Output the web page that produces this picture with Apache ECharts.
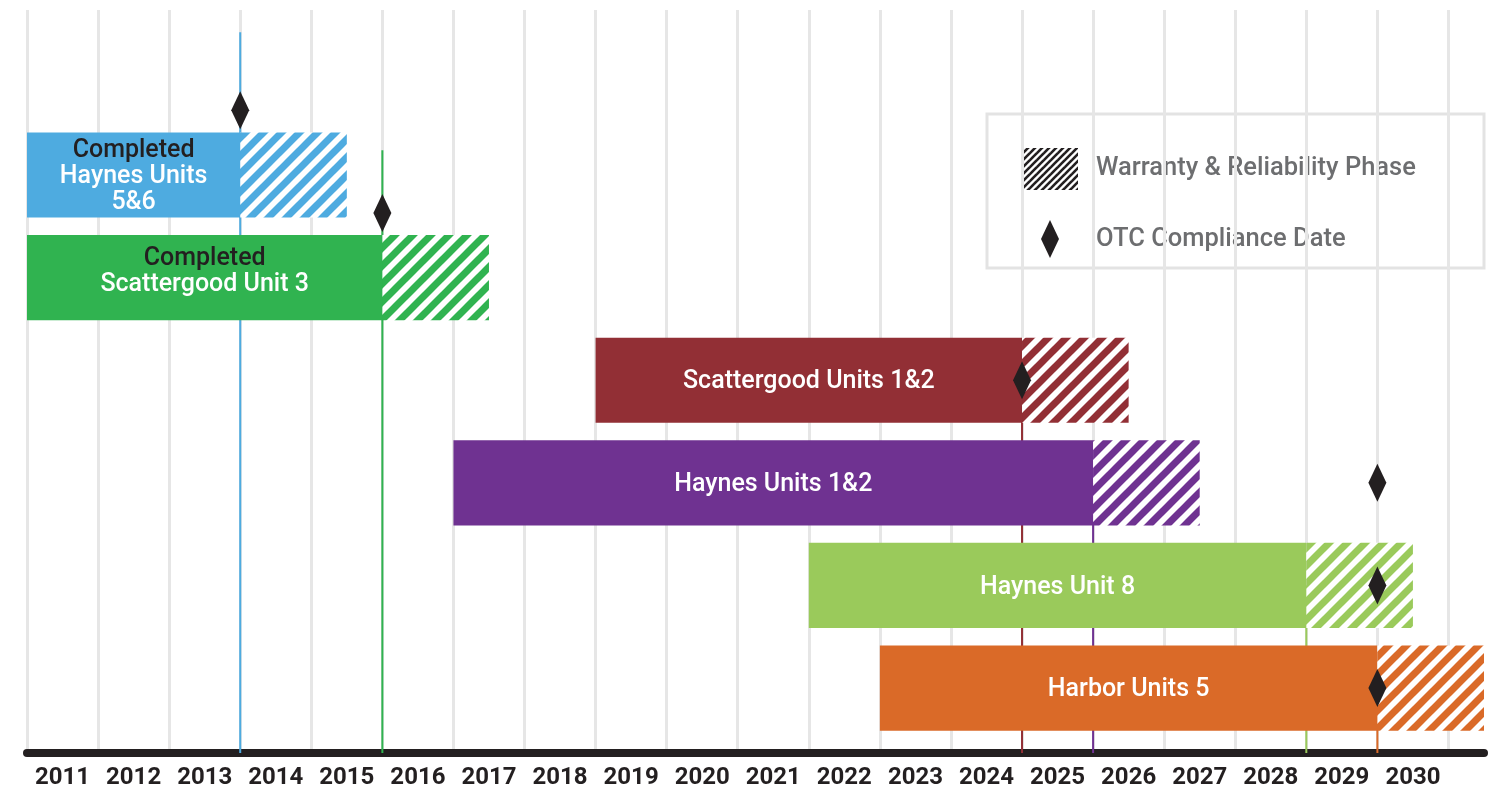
<!DOCTYPE html>
<html>
<head>
<meta charset="utf-8">
<script src="https://cdn.jsdelivr.net/npm/echarts@6/dist/echarts.min.js"></script>
<style>
  html, body { margin: 0; padding: 0; background: #fff; }
  #chart { width: 1495px; height: 788px; }
</style>
</head>
<body>
<div id="chart"></div>
<script>
// rows, top to bottom
const projects = ['Haynes Units 5&6', 'Scattergood Unit 3', 'Scattergood Units 1&2', 'Haynes Units 1&2', 'Haynes Unit 8', 'Harbor Units 5'];
const barLabels = ['Haynes Units\n5&6', 'Scattergood Unit 3', 'Scattergood Units 1&2', 'Haynes Units 1&2', 'Haynes Unit 8', 'Harbor Units 5'];
const statusNotes = ['Completed', 'Completed', '', '', '', ''];
const startYears = [2011, 2011, 2019, 2017, 2022, 2023];
const solidEndYears = [2014, 2016, 2025, 2026, 2029, 2030];
const warrantyEndYears = [2015.5, 2017.5, 2026.5, 2027.5, 2030.5, 2031.5];
// OTC compliance diamonds (year, row position)
const otcDates = [2014, 2016, 2025, 2030, 2030, 2030];
const otcRows = [-0.63, 0.37, 2, 3, 4, 5];
// where each milestone line starts (row position)
const lineTops = [-1.39, -0.24, 2, 3, 4, 5];
const yearLabels = ['2011', '2012', '2013', '2014', '2015', '2016', '2017', '2018', '2019', '2020',
  '2021', '2022', '2023', '2024', '2025', '2026', '2027', '2028', '2029', '2030'];

const barColors = ['#4eabe0', '#30b350', '#922f35', '#6f3291', '#9aca5b', '#da6a28'];
const BAR_H = 0.83;
const FONT = 'Roboto';

// diagonal "/" stripes on white
function stripes(color, size, lw) {
  const c = document.createElement('canvas');
  c.width = size; c.height = size;
  const ctx = c.getContext('2d');
  ctx.fillStyle = '#fff';
  ctx.fillRect(0, 0, size, size);
  ctx.strokeStyle = color;
  ctx.lineWidth = lw;
  for (let k = -1; k <= 1; k++) {
    ctx.beginPath();
    ctx.moveTo(k * size - size, 2 * size);
    ctx.lineTo(k * size + 2 * size, -size);
    ctx.stroke();
  }
  return { image: c, repeat: 'repeat' };
}

const hatchFills = barColors.map(c => stripes(c, 18, 7));

const barData = projects.map((p, i) => ({
  name: p,
  value: [i, startYears[i], solidEndYears[i], warrantyEndYears[i]]
}));

function renderBar(params, api) {
  const i = params.dataIndex;
  const row = api.value(0);
  const p0 = api.coord([api.value(1), row]);
  const p1 = api.coord([api.value(2), row]);
  const p2 = api.coord([api.value(3), row]);
  const h = Math.abs(api.size([0, BAR_H])[1]);
  const top = p0[1] - h / 2;
  let txt = barLabels[i].split('\n').map(s => '{w|' + s + '}').join('\n');
  if (statusNotes[i]) txt = '{n|' + statusNotes[i] + '}\n' + txt;
  return {
    type: 'group',
    children: [
      { type: 'rect', shape: { x: p0[0], y: top, width: p1[0] - p0[0], height: h }, style: { fill: barColors[i] } },
      { type: 'rect', shape: { x: p1[0], y: top, width: p2[0] - p1[0], height: h }, style: { fill: hatchFills[i] } },
      {
        type: 'text', x: (p0[0] + p1[0]) / 2, y: p0[1] + 2 - (i === 1 ? 8 : 0),
        style: {
          text: txt, align: 'center', verticalAlign: 'middle',
          rich: {
            n: { fill: '#231f20', fontFamily: FONT, fontWeight: 500, fontSize: 25, lineHeight: 26 },
            w: { fill: '#ffffff', fontFamily: FONT, fontWeight: 500, fontSize: 25, lineHeight: 26 }
          }
        }
      }
    ]
  };
}

function renderLine(params, api) {
  const i = params.dataIndex;
  const p = api.coord([api.value(0), api.value(1)]);
  const bottom = params.coordSys.y + params.coordSys.height;
  return {
    type: 'line',
    shape: { x1: p[0], y1: p[1], x2: p[0], y2: bottom },
    style: { stroke: barColors[i], lineWidth: 2 }
  };
}

const legendHatch = stripes('#231f20', 7, 2.6);

const chart = echarts.init(document.getElementById('chart'));
chart.setOption({
  animation: false,
  grid: { left: 27, right: 11, top: 10, bottom: 35, outerBoundsMode: 'none', containLabel: false },
  xAxis: {
    type: 'value', min: 2011, max: 2031.5, interval: 1,
    axisLine: { show: true, onZero: false, lineStyle: { color: '#231f20', width: 8 } },
    axisTick: { show: false },
    splitLine: { show: true, showMaxLine: false, lineStyle: { color: '#e6e6e6', width: 3 } },
    axisLabel: {
      customValues: yearLabels.map(y => Number(y) + 0.5),
      formatter: v => String(Math.floor(v)),
      color: '#231f20', fontFamily: FONT, fontWeight: 'bold', fontSize: 24, margin: 13
    }
  },
  yAxis: {
    type: 'value', inverse: true, min: -1.608, max: 5.633,
    axisLine: { show: false }, axisTick: { show: false },
    axisLabel: { show: false }, splitLine: { show: false }
  },
  series: [
    {
      type: 'custom', z: 1, renderItem: renderLine,
      data: solidEndYears.map((y, i) => [y, lineTops[i]])
    },
    {
      type: 'custom', z: 2, renderItem: renderBar,
      encode: { x: [1, 2, 3], y: 0 },
      data: barData
    },
    {
      type: 'scatter', z: 3, symbol: 'diamond', symbolSize: [18, 38],
      itemStyle: { color: '#231f20', opacity: 1 },
      data: otcDates.map((d, i) => [d, otcRows[i]])
    }
  ],
  graphic: [
    {
      type: 'group', z: 100,
      children: [
        { type: 'rect', shape: { x: 987, y: 114, width: 497, height: 154 }, style: { fill: '#fff', stroke: '#e3e3e3', lineWidth: 3 } },
        { type: 'rect', shape: { x: 1024, y: 148, width: 54, height: 42 }, style: { fill: legendHatch } },
        { type: 'polygon', shape: { points: [[1050, 220], [1059, 239], [1050, 258], [1041, 239]] }, style: { fill: '#231f20' } },
        { type: 'text', x: 1096, y: 169, style: { text: 'Warranty & Reliability Phase', fill: '#6d6e70', font: '500 25.5px Roboto', verticalAlign: 'middle' } },
        { type: 'text', x: 1096, y: 240, style: { text: 'OTC Compliance Date', fill: '#6d6e70', font: '500 25.5px Roboto', verticalAlign: 'middle' } }
      ]
    }
  ]
});
</script>
</body>
</html>
